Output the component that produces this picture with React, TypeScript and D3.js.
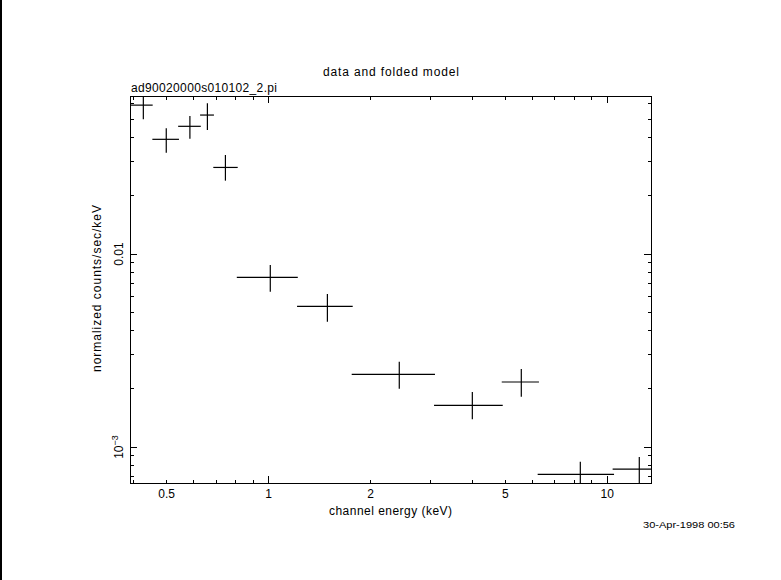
import React from 'react'
import * as d3 from 'd3';

// channel energy bins (keV): centre, low edge, high edge
const energy = [0.427, 0.499, 0.586, 0.660, 0.746, 1.012, 1.492, 2.432, 3.996, 5.574, 8.325, 12.43];
const energyLo = [0.392, 0.454, 0.541, 0.628, 0.687, 0.806, 1.214, 1.760, 3.08, 4.88, 6.23, 10.37];
const energyHi = [0.455, 0.544, 0.631, 0.690, 0.811, 1.220, 1.772, 3.10, 4.913, 6.285, 10.47, 14.5];

// normalized counts/sec/keV with 1-sigma errors
const rate = [0.0591, 0.0393, 0.0459, 0.0525, 0.0281, 0.00757, 0.00536, 0.00238, 0.001644, 0.002172, 0.000722, 0.000769];
const rateLo = [0.0499, 0.0335, 0.0396, 0.0439, 0.0240, 0.00638, 0.00446, 0.002005, 0.001391, 0.001822, 0.000605, 0.00065];
const rateHi = [0.0683, 0.0448, 0.0519, 0.0604, 0.0326, 0.00877, 0.00620, 0.002767, 0.001928, 0.002535, 0.000839, 0.000888];

const xTickLabels = [
  { v: 0.5, t: '0.5' },
  { v: 1, t: '1' },
  { v: 2, t: '2' },
  { v: 5, t: '5' },
  { v: 10, t: '10' },
];

const xDomain = [0.390, 13.46];
const yDomain = [6.51e-4, 0.0659];

const FONT = '"Liberation Sans", "DejaVu Sans", sans-serif';

const left = 130, right = 651, top = 96, bottom = 483;

const isMajor = (v: number) => Math.abs(Math.log10(v) - Math.round(Math.log10(v))) < 1e-6;

const App = () => {
  const x = d3.scaleLog().domain(xDomain).range([left, right]);
  const y = d3.scaleLog().domain(yDomain).range([bottom, top]);

  const xTicks = x.ticks();
  const yTicks = y.ticks();

  return (
    <svg width={781} height={580} style={{ position: 'absolute', left: 0, top: 0, background: '#fff' }}>
      <rect x={0} y={0} width={781} height={580} fill="#fff" />
      <rect x={0} y={0} width={2} height={580} fill="#000" />

      <defs>
        <clipPath id="plotClip">
          <rect x={left} y={top} width={right - left} height={bottom - top} />
        </clipPath>
      </defs>

      <g fontFamily={FONT} fill="#000">
        <text x={323} y={76} fontSize={12} textLength={136} lengthAdjust="spacing">data and folded model</text>
        <text x={131} y={92} fontSize={12} textLength={146} lengthAdjust="spacing">ad90020000s010102_2.pi</text>
        <text x={329} y={515} fontSize={12} textLength={123} lengthAdjust="spacing">channel energy (keV)</text>
        <text transform={`translate(101,372) rotate(-90)`} fontSize={12} textLength={167} lengthAdjust="spacing">
          normalized counts/sec/keV
        </text>
        <text x={643} y={528} fontSize={8.5} textLength={92} lengthAdjust="spacingAndGlyphs">30-Apr-1998 00:56</text>

        {xTickLabels.map((d, i) => (
          <text key={i} x={x(d.v)} y={498} fontSize={12} textAnchor="middle">{d.t}</text>
        ))}

        <text transform={`translate(123,${y(0.01)}) rotate(-90)`} fontSize={12} textAnchor="middle">0.01</text>
        <text transform={`translate(123,${y(0.001)}) rotate(-90)`} fontSize={12} textAnchor="middle">
          10<tspan fontSize={9} dy={-5}>−3</tspan>
        </text>
      </g>

      <g stroke="#000" strokeWidth={1} fill="none" shapeRendering="crispEdges">
        <rect x={left} y={top} width={right - left} height={bottom - top} />
        {xTicks.map((v, i) => {
          const len = isMajor(v) ? 7 : 3.5;
          return (
            <g key={i}>
              <line x1={x(v)} x2={x(v)} y1={bottom} y2={bottom - len} />
              <line x1={x(v)} x2={x(v)} y1={top} y2={top + len} />
            </g>
          );
        })}
        {yTicks.map((v, i) => {
          const len = isMajor(v) ? 7 : 3.5;
          return (
            <g key={i}>
              <line x1={left} x2={left + len} y1={y(v)} y2={y(v)} />
              <line x1={right} x2={right - len} y1={y(v)} y2={y(v)} />
            </g>
          );
        })}
      </g>

      <g stroke="#000" strokeWidth={1.2} clipPath="url(#plotClip)">
        {energy.map((e, i) => (
          <g key={i}>
            <line x1={x(energyLo[i])} x2={x(energyHi[i])} y1={y(rate[i])} y2={y(rate[i])} />
            <line x1={x(e)} x2={x(e)} y1={y(rateLo[i])} y2={y(rateHi[i])} />
          </g>
        ))}
      </g>
    </svg>
  );
};

export default App
